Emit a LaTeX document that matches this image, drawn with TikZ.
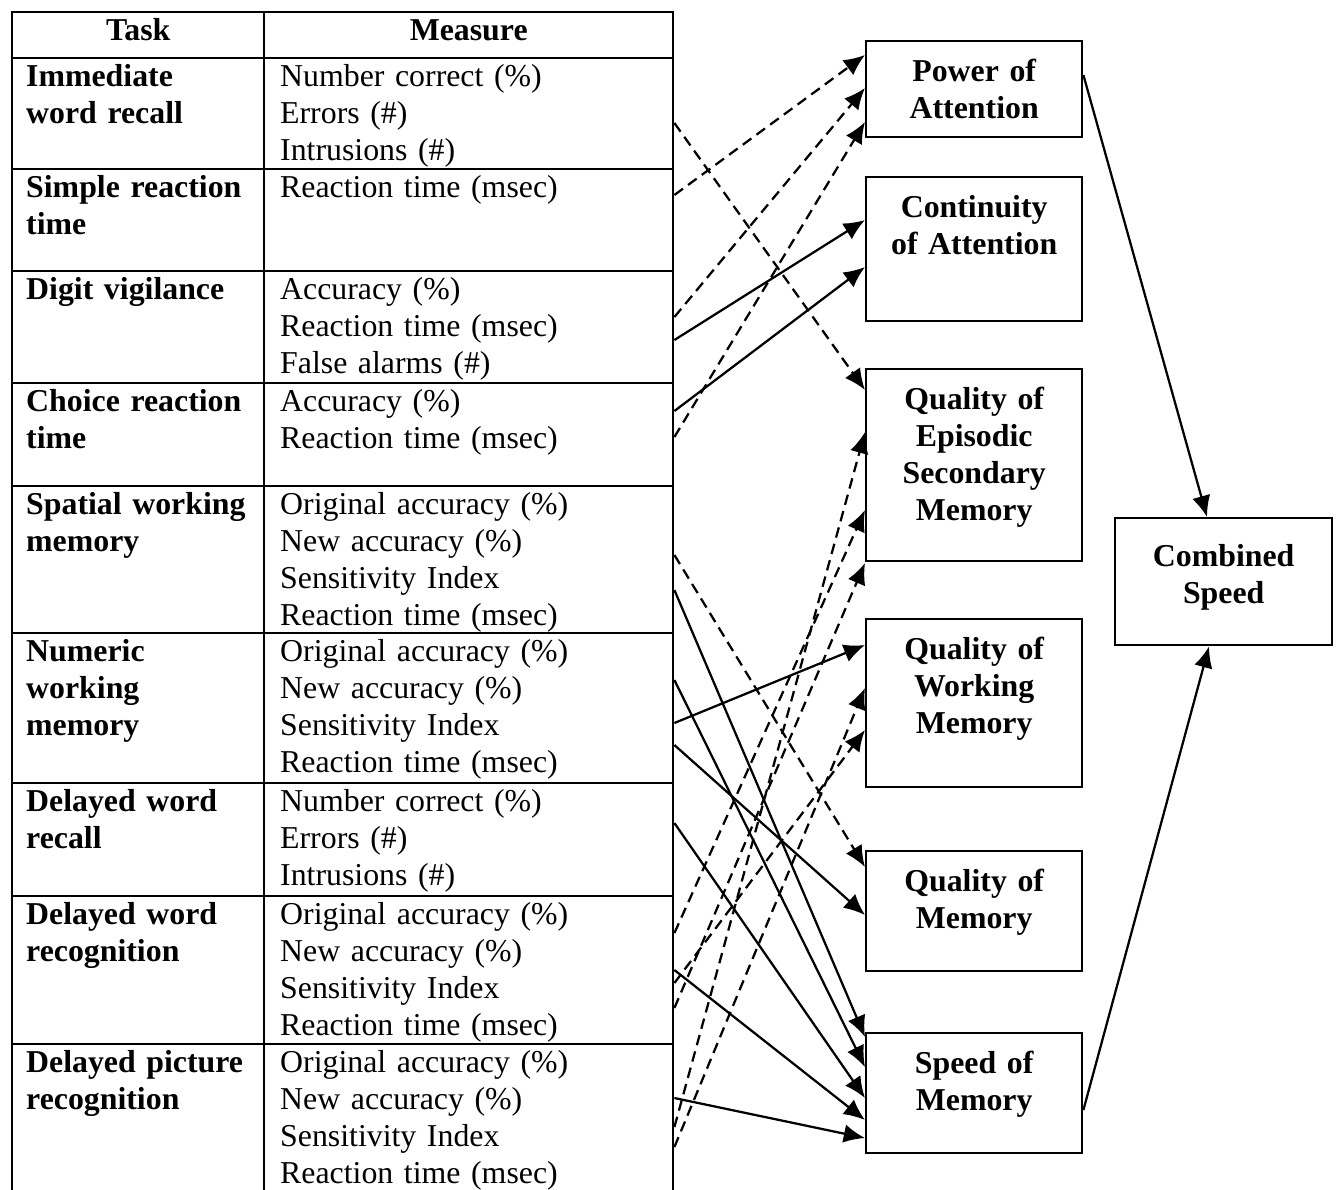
\documentclass[tikz,border=0pt]{standalone}
\usepackage{fontspec}
\setmainfont{Liberation Serif}
\usepackage{tikz}
\usetikzlibrary{arrows.meta}
\usetikzlibrary{positioning}
\newcommand{\pxu}{0.377pt}

\begin{document}
\begin{tikzpicture}
[
	x = 0.377pt, y = -0.377pt,
	every node/.style = {font = \fontsize{12}{13.95}\selectfont},
	cell/.style	= {draw, line width = 0.9pt, anchor = north west, inner xsep = 14*\pxu, inner ysep = 0pt, text height = 28*\pxu, text depth = (#1-28)*\pxu},
	task/.style	= {cell = #1, text width = 224*\pxu, align = left, font = \fontsize{12}{13.95}\selectfont\bfseries},
	measure/.style	= {cell = #1, inner xsep = 16*\pxu, text width = 377*\pxu, align = left},
	head/.style	= {cell = 46, align = center, font = \fontsize{12}{13.95}\selectfont\bfseries},
	factor/.style	= {draw, line width = 0.9pt, anchor = north west, inner sep = 0pt, text width = 216*\pxu, align = center, text height = 40*\pxu, text depth = (#1-40)*\pxu, font = \fontsize{12}{13.95}\selectfont\bfseries},
	link/.style	= {line width = 0.85pt, -{Latex[length = 8pt, width = 7pt]}},
	weak/.style	= {link, dash pattern = on 4pt off 2.4pt},
]

	\useasboundingbox (0,0) rectangle (1336,1189);

	\node (th) [head, text width = 224*\pxu] at (11,11) {Task};
	\node (mh) [head, inner xsep = 16*\pxu, text width = 377*\pxu] at (263,11) {Measure};
	%
	\node (t1) [task = 111] at (11,57) {Immediate\\word recall};
	\node (t2) [task = 102] at (11,168) {Simple reaction\\time};
	\node (t3) [task = 112] at (11,270) {Digit vigilance};
	\node (t4) [task = 103] at (11,382) {Choice reaction\\time};
	\node (t5) [task = 147] at (11,485) {Spatial working\\memory};
	\node (t6) [task = 150] at (11,632) {Numeric\\working\\memory};
	\node (t7) [task = 113] at (11,782) {Delayed word\\recall};
	\node (t8) [task = 148] at (11,895) {Delayed word\\recognition};
	\node (t9) [task = 170] at (11,1043) {Delayed picture\\recognition};
	%
	\node (m1) [measure = 111] at (263,57) {Number correct (\%)\\Errors (\#)\\Intrusions (\#)};
	\node (m2) [measure = 102] at (263,168) {Reaction time (msec)};
	\node (m3) [measure = 112] at (263,270) {Accuracy (\%)\\Reaction time (msec)\\False alarms (\#)};
	\node (m4) [measure = 103] at (263,382) {Accuracy (\%)\\Reaction time (msec)};
	\node (m5) [measure = 147] at (263,485) {Original accuracy (\%)\\New accuracy (\%)\\Sensitivity Index\\Reaction time (msec)};
	\node (m6) [measure = 150] at (263,632) {Original accuracy (\%)\\New accuracy (\%)\\Sensitivity Index\\Reaction time (msec)};
	\node (m7) [measure = 113] at (263,782) {Number correct (\%)\\Errors (\#)\\Intrusions (\#)};
	\node (m8) [measure = 148] at (263,895) {Original accuracy (\%)\\New accuracy (\%)\\Sensitivity Index\\Reaction time (msec)};
	\node (m9) [measure = 170] at (263,1043) {Original accuracy (\%)\\New accuracy (\%)\\Sensitivity Index\\Reaction time (msec)};

	\node (poa) [factor = 96] at (865,40) {Power of\\Attention};
	\node (coa) [factor = 144] at (865,176) {Continuity\\of Attention};
	\node (qesm) [factor = 192] at (865,368) {Quality of\\Episodic\\Secondary\\Memory};
	\node (qwm) [factor = 168] at (865,618) {Quality of\\Working\\Memory};
	\node (qom) [factor = 120] at (865,850) {Quality of\\Memory};
	\node (som) [factor = 120] at (865,1032) {Speed of\\Memory};
	\node (cs) [factor = 127, text width = 217*\pxu, text height = 48*\pxu, text depth = 79*\pxu] at (1114,517) {Combined\\Speed};

	\draw [weak] (m2.east |- 0,195) -- (poa.west |- 0,55);
	\draw [weak] (m3.east |- 0,317) -- (poa.west |- 0,88);
	\draw [weak] (m4.east |- 0,437) -- (poa.west |- 0,122);
	\draw [weak] (m1.east |- 0,123) -- (qesm.west |- 0,390);
	\draw [weak] (m5.east |- 0,555) -- (qom.west |- 0,867);
	\draw [weak] (m8.east |- 0,933) -- (qesm.west |- 0,510);
	\draw [weak] (m8.east |- 0,983) -- (qwm.west |- 0,730);
	\draw [weak] (m8.east |- 0,1008) -- (qesm.west |- 0,563);
	\draw [weak] (m9.east |- 0,1127) -- (qesm.west |- 0,432);
	\draw [weak] (m9.east |- 0,1147) -- (qwm.west |- 0,688);
	%
	\draw [link] (m3.east |- 0,340) -- (coa.west |- 0,220);
	\draw [link] (m4.east |- 0,411) -- (coa.west |- 0,267);
	\draw [link] (m6.east |- 0,723) -- (qwm.west |- 0,645);
	\draw [link] (m6.east |- 0,745) -- (qom.west |- 0,915);
	\draw [link] (m5.east |- 0,590) -- (som.west |- 0,1037);
	\draw [link] (m6.east |- 0,680) -- (som.west |- 0,1067);
	\draw [link] (m7.east |- 0,823) -- (som.west |- 0,1098);
	\draw [link] (m8.east |- 0,970) -- (som.west |- 0,1120);
	\draw [link] (m9.east |- 0,1098) -- (som.west |- 0,1138);
	%
	\draw [link] (poa.east |- 0,75) -- (cs.north -| 1207,0);
	\draw [link] (som.east |- 0,1110) -- (cs.south -| 1209,0);

\end{tikzpicture}
\end{document}
